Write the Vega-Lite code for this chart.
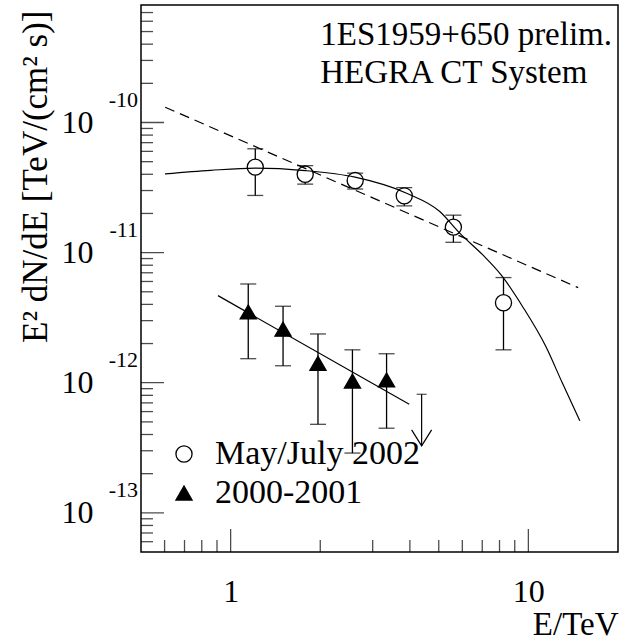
{
  "$schema": "https://vega.github.io/schema/vega-lite/v6.json",
  "width": 477,
  "height": 547,
  "autosize": {"type": "none"},
  "padding": {"left": 141, "top": 5, "right": 1, "bottom": 90},
  "background": "white",
  "config": {
    "view": {"stroke": "black", "strokeWidth": 1.5},
    "font": "Liberation Serif",
    "axis": {"labelFont": "Liberation Serif", "titleFont": "Liberation Serif", "labelColor": "black", "titleColor": "black", "grid": false, "domain": false, "ticks": false, "titleFontWeight": "normal"}
  },
  "datasets": {
    "pts": [
      {"E": 1.21, "f": 4.54e-11, "lo": 2.75e-11, "hi": 6.28e-11, "series": "May/July 2002"},
      {"E": 1.78, "f": 4.0e-11, "lo": 3.36e-11, "hi": 4.66e-11, "series": "May/July 2002"},
      {"E": 2.62, "f": 3.58e-11, "lo": 3.08e-11, "hi": 4.08e-11, "series": "May/July 2002"},
      {"E": 3.83, "f": 2.73e-11, "lo": 2.29e-11, "hi": 3.16e-11, "series": "May/July 2002"},
      {"E": 5.6, "f": 1.57e-11, "lo": 1.2e-11, "hi": 1.94e-11, "series": "May/July 2002"},
      {"E": 8.25, "f": 4.12e-12, "lo": 1.79e-12, "hi": 6.43e-12, "series": "May/July 2002"},
      {"E": 1.146, "f": 3.5e-12, "lo": 1.53e-12, "hi": 5.74e-12, "series": "2000-2001"},
      {"E": 1.5, "f": 2.58e-12, "lo": 1.35e-12, "hi": 3.87e-12, "series": "2000-2001"},
      {"E": 1.965, "f": 1.41e-12, "lo": 4.79e-13, "hi": 2.37e-12, "series": "2000-2001"},
      {"E": 2.565, "f": 1.03e-12, "lo": 2.88e-13, "hi": 1.79e-12, "series": "2000-2001"},
      {"E": 3.34, "f": 1.05e-12, "lo": 4.47e-13, "hi": 1.67e-12, "series": "2000-2001"}
    ],
    "ul": [{"E": 4.38, "top": 8.15e-13, "tip": 3.27e-13}],
    "fitMay": [
      {"E": 0.602, "f": 4.03e-11},
      {"E": 0.857, "f": 4.29e-11},
      {"E": 1.212, "f": 4.46e-11},
      {"E": 1.782, "f": 4.27e-11},
      {"E": 2.618, "f": 3.8e-11},
      {"E": 3.9, "f": 2.86e-11},
      {"E": 5.04, "f": 2.07e-11},
      {"E": 5.88, "f": 1.41e-11},
      {"E": 7.03, "f": 9.6e-12},
      {"E": 8.1, "f": 6.74e-12},
      {"E": 9.57, "f": 3.84e-12},
      {"E": 11.46, "f": 1.89e-12},
      {"E": 13.02, "f": 9.89e-13},
      {"E": 14.89, "f": 5.1e-13}
    ],
    "pl": [{"E": 0.603, "f": 1.31e-10}, {"E": 14.7, "f": 5.38e-12}],
    "fitOld": [{"E": 0.907, "f": 4.67e-12}, {"E": 3.98, "f": 6.82e-13}],
    "ann": [
      {"E": 2.0, "f": 3.96e-10, "t": "1ES1959+650 prelim."},
      {"E": 2.0, "f": 2.02e-10, "t": "HEGRA CT System"}
    ],
    "exps": [
      {"E": 0.5, "f": 1e-10, "t": "-10"},
      {"E": 0.5, "f": 1e-11, "t": "-11"},
      {"E": 0.5, "f": 1e-12, "t": "-12"},
      {"E": 0.5, "f": 1e-13, "t": "-13"}
    ],
    "xMinor": [{"E": 0.6}, {"E": 0.7}, {"E": 0.8}, {"E": 0.9}, {"E": 2}, {"E": 3}, {"E": 4}, {"E": 5}, {"E": 6}, {"E": 7}, {"E": 8}, {"E": 9}],
    "xMajor": [{"E": 1}, {"E": 10}],
    "yMinor": [
      {"f": 6e-14}, {"f": 7e-14}, {"f": 8e-14}, {"f": 9e-14},
      {"f": 2e-13}, {"f": 3e-13}, {"f": 4e-13}, {"f": 5e-13}, {"f": 6e-13}, {"f": 7e-13}, {"f": 8e-13}, {"f": 9e-13},
      {"f": 2e-12}, {"f": 3e-12}, {"f": 4e-12}, {"f": 5e-12}, {"f": 6e-12}, {"f": 7e-12}, {"f": 8e-12}, {"f": 9e-12},
      {"f": 2e-11}, {"f": 3e-11}, {"f": 4e-11}, {"f": 5e-11}, {"f": 6e-11}, {"f": 7e-11}, {"f": 8e-11}, {"f": 9e-11},
      {"f": 2e-10}, {"f": 3e-10}, {"f": 4e-10}, {"f": 5e-10}, {"f": 6e-10}, {"f": 7e-10}
    ],
    "yMajor": [{"f": 1e-13}, {"f": 1e-12}, {"f": 1e-11}, {"f": 1e-10}]
  },
  "layer": [
    {
      "data": {"name": "pts"},
      "mark": {"type": "rule", "color": "black", "strokeWidth": 1.3},
      "encoding": {
        "x": {
          "field": "E", "type": "quantitative",
          "scale": {"type": "log", "domain": [0.5, 20], "nice": false},
          "axis": {
            "values": [1, 10],
            "labelExpr": "datum.value == 1 ? '1' : (datum.value == 10 ? '10' : '')",
            "labelFontSize": 32,
            "labelPadding": 24,
            "labelOverlap": false,
            "labelFlush": false,
            "title": "E/TeV",
            "titleFontSize": 33,
            "titleAnchor": "end",
            "titleAlign": "right",
            "titlePadding": 1
          }
        },
        "y": {
          "field": "lo", "type": "quantitative",
          "scale": {"type": "log", "domain": [5e-14, 8e-10], "nice": false},
          "axis": {
            "values": [1e-13, 1e-12, 1e-11, 1e-10],
            "labelExpr": "'10'",
            "labelFontSize": 32,
            "labelPadding": 48,
            "labelOverlap": false,
            "labelFlush": false,
            "title": "E² dN/dE [TeV/(cm² s)]",
            "titleFontSize": 35,
            "titleAnchor": "end",
            "titleAlign": "right",
            "titleY": 5,
            "titlePadding": 8
          }
        },
        "y2": {"field": "hi"}
      }
    },
    {
      "data": {"name": "xMinor"},
      "mark": {"type": "tick", "orient": "vertical", "size": 24, "thickness": 1.3, "color": "black", "clip": true},
      "encoding": {
        "x": {"field": "E", "type": "quantitative"},
        "y": {"datum": 5e-14, "type": "quantitative"}
      }
    },
    {
      "data": {"name": "xMajor"},
      "mark": {"type": "tick", "orient": "vertical", "size": 46, "thickness": 1.3, "color": "black", "clip": true},
      "encoding": {
        "x": {"field": "E", "type": "quantitative"},
        "y": {"datum": 5e-14, "type": "quantitative"}
      }
    },
    {
      "data": {"name": "yMinor"},
      "mark": {"type": "tick", "orient": "horizontal", "size": 24, "thickness": 1.3, "color": "black", "clip": true},
      "encoding": {
        "x": {"datum": 0.5, "type": "quantitative"},
        "y": {"field": "f", "type": "quantitative"}
      }
    },
    {
      "data": {"name": "yMajor"},
      "mark": {"type": "tick", "orient": "horizontal", "size": 46, "thickness": 1.3, "color": "black", "clip": true},
      "encoding": {
        "x": {"datum": 0.5, "type": "quantitative"},
        "y": {"field": "f", "type": "quantitative"}
      }
    },
    {
      "data": {"name": "pts"},
      "mark": {"type": "tick", "orient": "horizontal", "size": 16, "thickness": 1.3, "color": "black"},
      "encoding": {
        "x": {"field": "E", "type": "quantitative"},
        "y": {"field": "lo", "type": "quantitative"}
      }
    },
    {
      "data": {"name": "pts"},
      "mark": {"type": "tick", "orient": "horizontal", "size": 16, "thickness": 1.3, "color": "black"},
      "encoding": {
        "x": {"field": "E", "type": "quantitative"},
        "y": {"field": "hi", "type": "quantitative"}
      }
    },
    {
      "data": {"name": "ul"},
      "mark": {"type": "rule", "color": "black", "strokeWidth": 1.2},
      "encoding": {
        "x": {"field": "E", "type": "quantitative"},
        "y": {"field": "top", "type": "quantitative"},
        "y2": {"field": "tip"}
      }
    },
    {
      "data": {"name": "ul"},
      "mark": {"type": "tick", "orient": "horizontal", "size": 10, "thickness": 1.2, "color": "black"},
      "encoding": {
        "x": {"field": "E", "type": "quantitative"},
        "y": {"field": "top", "type": "quantitative"}
      }
    },
    {
      "data": {"name": "ul"},
      "mark": {"type": "point", "shape": "M-1,-1.6L0,0L1,-1.6", "size": 400, "filled": false, "stroke": "black", "strokeWidth": 1.2, "opacity": 1},
      "encoding": {
        "x": {"field": "E", "type": "quantitative"},
        "y": {"field": "tip", "type": "quantitative"}
      }
    },
    {
      "data": {"name": "pts"},
      "mark": {"type": "point", "filled": true, "strokeWidth": 1.3, "size": 260, "opacity": 1},
      "encoding": {
        "x": {"field": "E", "type": "quantitative"},
        "y": {"field": "f", "type": "quantitative"},
        "shape": {
          "field": "series", "type": "nominal",
          "scale": {"domain": ["May/July 2002", "2000-2001"], "range": ["circle", "triangle-up"]},
          "legend": {"orient": "none", "legendX": 26, "legendY": 432, "title": null, "labelFontSize": 34, "labelFont": "Liberation Serif", "labelColor": "black", "labelLimit": 500, "symbolSize": 260, "symbolStrokeWidth": 1.3, "rowPadding": 5, "labelOffset": 14, "padding": 0}
        },
        "fill": {
          "field": "series", "type": "nominal",
          "scale": {"domain": ["May/July 2002", "2000-2001"], "range": ["white", "black"]},
          "legend": {"orient": "none", "legendX": 26, "legendY": 432, "title": null, "labelFontSize": 34, "labelFont": "Liberation Serif", "labelColor": "black", "labelLimit": 500, "symbolSize": 260, "symbolStrokeWidth": 1.3, "rowPadding": 5, "labelOffset": 14, "padding": 0}
        },
        "stroke": {
          "field": "series", "type": "nominal",
          "scale": {"domain": ["May/July 2002", "2000-2001"], "range": ["black", "black"]},
          "legend": {"orient": "none", "legendX": 26, "legendY": 432, "title": null, "labelFontSize": 34, "labelFont": "Liberation Serif", "labelColor": "black", "labelLimit": 500, "symbolSize": 260, "symbolStrokeWidth": 1.3, "rowPadding": 5, "labelOffset": 14, "padding": 0}
        }
      }
    },
    {
      "data": {"name": "fitMay"},
      "mark": {"type": "line", "color": "black", "strokeWidth": 1.2, "interpolate": "monotone"},
      "encoding": {
        "x": {"field": "E", "type": "quantitative"},
        "y": {"field": "f", "type": "quantitative"}
      }
    },
    {
      "data": {"name": "pl"},
      "mark": {"type": "line", "color": "black", "strokeWidth": 1.2, "strokeDash": [10, 6]},
      "encoding": {
        "x": {"field": "E", "type": "quantitative"},
        "y": {"field": "f", "type": "quantitative"}
      }
    },
    {
      "data": {"name": "fitOld"},
      "mark": {"type": "line", "color": "black", "strokeWidth": 1.2},
      "encoding": {
        "x": {"field": "E", "type": "quantitative"},
        "y": {"field": "f", "type": "quantitative"}
      }
    },
    {
      "data": {"name": "ann"},
      "mark": {"type": "text", "align": "left", "baseline": "alphabetic", "fontSize": 33, "font": "Liberation Serif", "color": "black"},
      "encoding": {
        "x": {"field": "E", "type": "quantitative"},
        "y": {"field": "f", "type": "quantitative"},
        "text": {"field": "t"}
      }
    },
    {
      "data": {"name": "exps"},
      "mark": {"type": "text", "align": "right", "baseline": "alphabetic", "fontSize": 22, "font": "Liberation Serif", "color": "black", "dx": -3, "dy": -16},
      "encoding": {
        "x": {"field": "E", "type": "quantitative"},
        "y": {"field": "f", "type": "quantitative"},
        "text": {"field": "t"}
      }
    }
  ]
}
